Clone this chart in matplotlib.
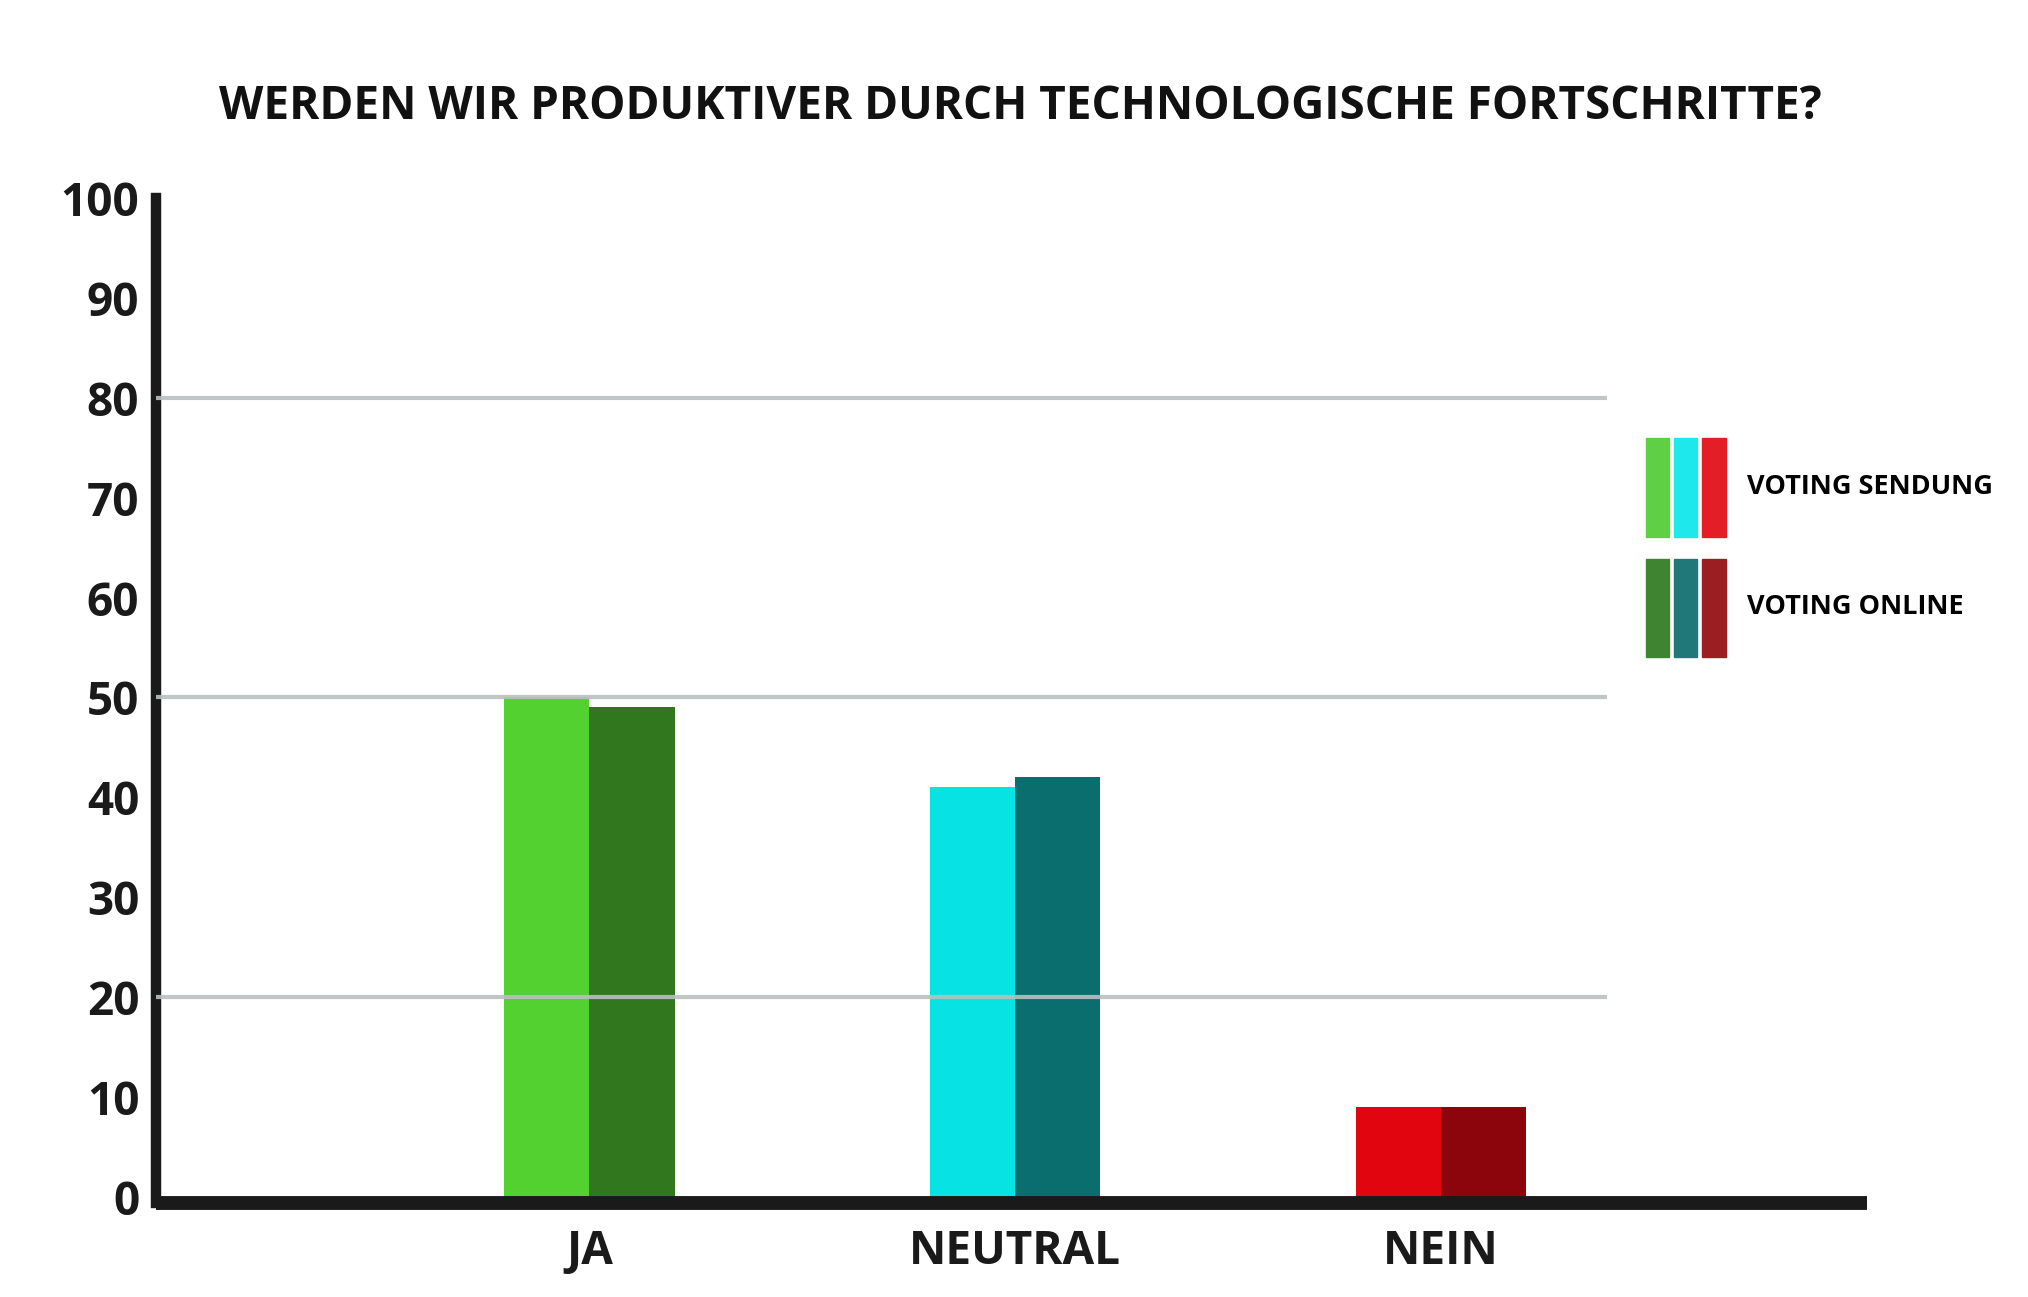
from matplotlib import pyplot as plt
from matplotlib.patches import Patch
from matplotlib.legend_handler import HandlerTuple
import numpy as np

# data
categories = ['JA', 'NEUTRAL', 'NEIN']
voting_sendung = [50, 41, 9]
voting_online = [49, 42, 9]
y_ticks = [0, 10, 20, 30, 40, 50, 60, 70, 80, 90, 100]
grid_values = [20, 50, 80]
series_labels = ['VOTING SENDUNG', 'VOTING ONLINE']

col_sendung = ['#52D130', '#07E3E3', '#E10510']
col_online = ['#30771E', '#0A6E6E', '#8C050C']
leg_sendung = ['#5FD045', '#1EE8EB', '#E41E26']
leg_online = ['#3F8531', '#217878', '#9A1E22']

plt.rcParams['font.family'] = ['Open Sans', 'DejaVu Sans']
plt.rcParams['font.weight'] = 'bold'

fig = plt.figure(figsize=(20.28, 12.97), dpi=100)
ax = fig.add_axes([0.0769, 0.0725, 0.8437, 0.7749])

x = np.arange(len(categories))
w = 0.2
ax.bar(x - w / 2, voting_sendung, width=w, color=col_sendung, zorder=2)
ax.bar(x + w / 2, voting_online, width=w, color=col_online, zorder=2)

ax.set_xlim(-1.018, 3.0)
ax.set_ylim(-0.6, 100)
ax.hlines(grid_values, -1.018, 2.39, colors='#B9C0C0', lw=3, alpha=0.9, zorder=3)

ax.set_xticks(x)
ax.set_xticklabels(categories, fontsize=33, fontweight='bold', color='#1a1a1a')
ax.set_yticks(y_ticks)
ax.set_yticklabels([str(v) for v in y_ticks], fontsize=33, fontweight='bold', color='#1a1a1a')
ax.tick_params(axis='both', length=0)
ax.tick_params(axis='y', pad=12)
ax.tick_params(axis='x', pad=18)

for s in ['top', 'right']:
    ax.spines[s].set_visible(False)
ax.spines['left'].set_linewidth(7.5)
ax.spines['left'].set_color('#1a1a1a')
ax.spines['bottom'].set_linewidth(10)
ax.spines['bottom'].set_color('#1a1a1a')
ax.spines['bottom'].set_capstyle('butt')

fig.text(0.503, 0.918, 'WERDEN WIR PRODUKTIVER DURCH TECHNOLOGISCHE FORTSCHRITTE?',
         ha='center', va='center', fontsize=33, fontweight='bold', color='#111111')

handles = [tuple(Patch(color=c) for c in leg_sendung),
           tuple(Patch(color=c) for c in leg_online)]
fig.legend(handles, series_labels, handler_map={tuple: HandlerTuple(ndivide=None, pad=0.185)},
           loc='upper left', bbox_to_anchor=(0.8115, 0.662), frameon=False,
           handlelength=2.95, handleheight=5.2, labelspacing=0.82,
           handletextpad=0.8, borderpad=0, borderaxespad=0,
           prop={'weight': 'bold', 'size': 19.5})

fig.savefig('out.png', dpi=100, facecolor='white')
